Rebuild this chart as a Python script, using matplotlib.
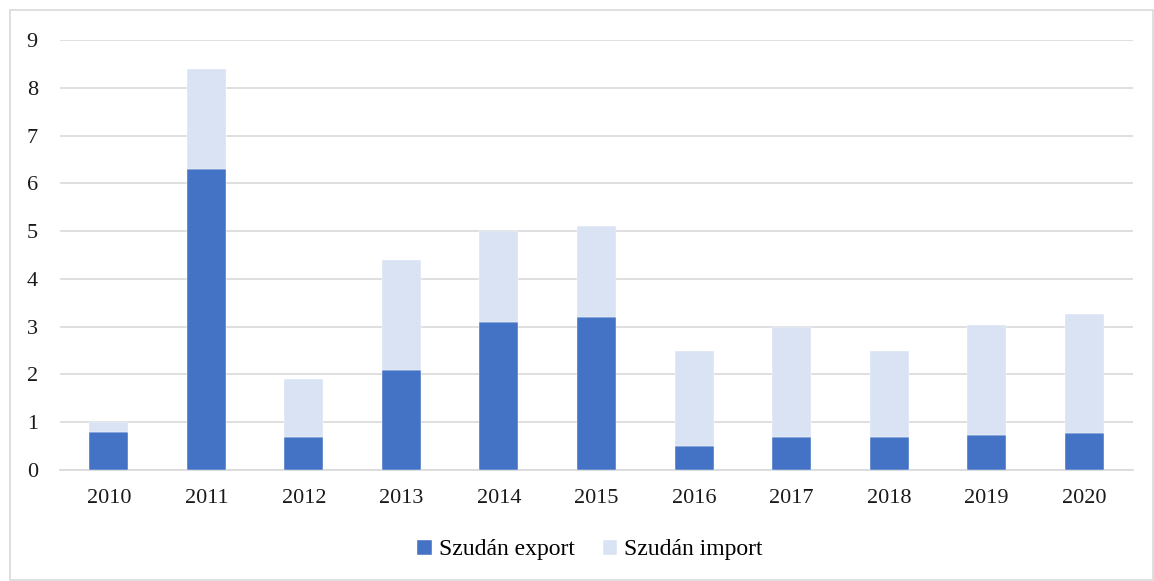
import matplotlib.pyplot as plt
from matplotlib.patches import Rectangle
import numpy as np

years = ["2010", "2011", "2012", "2013", "2014", "2015", "2016", "2017", "2018", "2019", "2020"]
export = [0.8, 6.3, 0.7, 2.1, 3.1, 3.2, 0.5, 0.7, 0.7, 0.73, 0.77]
total = [1.0, 8.4, 1.9, 4.4, 5.0, 5.1, 2.5, 3.0, 2.5, 3.03, 3.27]
imports = [t - e for t, e in zip(total, export)]

export_color = '#4472C4'
import_color = '#DAE3F3'
grid_color = '#D9D9D9'

plt.rcParams['font.family'] = ['Liberation Serif', 'DejaVu Serif']

fig = plt.figure(figsize=(11.54, 5.81), dpi=100)
ax = fig.add_axes([60 / 1154, 1 - 470 / 581, 1073 / 1154, 430 / 581])

# outer frame
fig.patches.append(Rectangle((10 / 1154, 1 / 581), 1143 / 1154, 570 / 581,
                             transform=fig.transFigure, fill=False,
                             edgecolor=grid_color, linewidth=1.2))

x = np.arange(len(years))
ax.bar(x, export, width=0.4, color=export_color, label="Szudán export", zorder=3,
       edgecolor='white', linewidth=0.3)
ax.bar(x, imports, width=0.4, bottom=export, color=import_color, label="Szudán import",
       zorder=3, edgecolor='white', linewidth=0.3)

ax.set_xlim(-0.5, len(years) - 0.5)
ax.set_ylim(0, 9)
ax.set_yticks(range(0, 10))
ax.set_xticks(x)
ax.set_xticklabels(years)
ax.yaxis.grid(True, color=grid_color, linewidth=1.2, zorder=0)
ax.set_axisbelow(True)
for s in ['top', 'right', 'left']:
    ax.spines[s].set_visible(False)
ax.spines['bottom'].set_color(grid_color)
ax.spines['bottom'].set_linewidth(1.2)
ax.tick_params(axis='both', length=0, labelsize=16, colors='#1a1a1a')
ax.tick_params(axis='y', pad=16)
ax.tick_params(axis='x', pad=14)

fig.legend(loc='center', bbox_to_anchor=(590 / 1154, 1 - 550 / 581), ncol=2,
           frameon=False, fontsize=17, handlelength=0.6, handleheight=0.6,
           handletextpad=0.3, columnspacing=1.2)

fig.savefig("out.png", dpi=100)
